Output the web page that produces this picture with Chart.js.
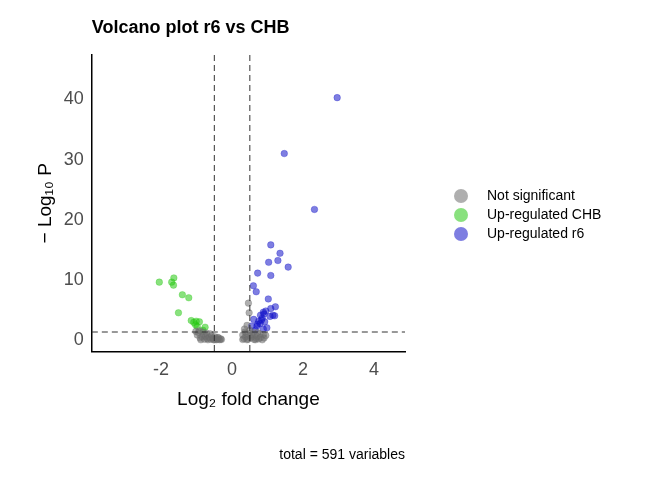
<!DOCTYPE html><html><head><meta charset="utf-8">
<script src="https://cdn.jsdelivr.net/npm/chart.js@4/dist/chart.umd.min.js"></script>
<style>html,body{margin:0;background:#fff}#w{width:672px;height:480px}</style></head><body><div id="w"><canvas id="c"></canvas></div>
<script>
const xTicks=[-2,0,2,4];
const yTicks=[0,10,20,30,40];
const greyPts=[[0.46,6.1],[0.48,4.5],[0.42,2.4],[0.35,1.8],[0.5,1.6],[0.6,1.2],[0.4,1.1],[0.3,0.8],[0.55,0.9],[0.7,0.6],[0.8,0.4],[0.9,0.3],[0.33,0.2],[0.45,0.1],[0.62,0.05],[0.75,0.15],[0.85,0.0],[0.38,0.5],[0.52,0.3],[0.68,0.25],[0.95,0.7],[0.78,1.0],[0.88,0.9],[0.3,0.05],[0.58,0.55],[0.66,0.0],[0.42,0.0],[0.72,1.2],[0.5,0.7],[0.36,1.3],
[-0.35,0.0],[-0.4,0.1],[-0.45,0.2],[-0.5,0.0],[-0.55,0.3],[-0.6,0.1],[-0.65,0.4],[-0.7,0.2],[-0.75,0.6],[-0.8,0.9],[-0.85,0.5],[-0.9,0.3],[-0.95,1.2],[-0.3,0.05],[-0.38,0.3],[-0.48,0.5],[-0.58,0.7],[-0.68,0.0],[-0.78,0.1],[-0.88,0.0],[-0.62,1.0],[-0.72,1.1],[-0.82,1.3],[-0.98,0.8],[-1.02,1.4],[-0.92,1.5],[-0.44,0.0],[-0.52,0.0],[-0.32,0.15],[-0.4,0.4]];
const chbPts=[[-2.05,9.6],[-1.64,10.3],[-1.70,9.6],[-1.65,9.1],[-1.40,7.5],[-1.22,7.0],[-1.51,4.5],[-1.15,3.2],[-1.01,3.1],[-0.92,3.0],[-1.03,2.5],[-0.76,2.1],[-1.08,2.9],[-0.98,2.2],[-0.82,1.6]];
const r6Pts=[[2.96,40.3],[1.47,31.0],[2.32,21.7],[1.09,15.8],[1.35,14.4],[1.03,12.9],[1.29,13.2],[1.58,12.1],[0.72,11.1],[1.09,10.7],[0.60,9.0],[0.68,8.0],[1.02,6.8],[1.22,5.5],[1.09,5.2],[0.88,4.6],[0.80,4.1],[1.20,4.0],[1.07,3.9],[0.61,3.4],[0.75,3.1],[0.85,3.6],[0.70,2.3],[0.98,2.0],[0.55,2.3],[0.79,2.7],[0.9,4.3],[0.95,4.8],[0.83,3.3],[0.72,2.6],[0.65,1.6],[0.88,1.8],[1.15,4.1],[0.92,3.0]];
const titleText='Volcano plot r6 vs CHB';
const footText='total = 591 variables';
const toXY=a=>a.map(p=>({x:p[0],y:p[1]}));
const deco={id:'deco',afterDatasetsDraw(ch){const {ctx,chartArea:a,scales:{x,y}}=ch;ctx.save();ctx.setLineDash([6,4]);ctx.strokeStyle='#333';ctx.lineWidth=1;
[-0.5,0.5].forEach(v=>{const px=x.getPixelForValue(v);ctx.beginPath();ctx.moveTo(px,a.top);ctx.lineTo(px,a.bottom);ctx.stroke();});
const py=y.getPixelForValue(1.3);ctx.beginPath();ctx.moveTo(a.left,py);ctx.lineTo(a.right,py);ctx.stroke();ctx.setLineDash([]);
ctx.fillStyle='#000';ctx.textBaseline='middle';ctx.font='bold 18px "Liberation Sans"';ctx.textAlign='left';ctx.fillText(titleText,a.left,28);
ctx.font='14px "Liberation Sans"';ctx.textAlign='right';ctx.fillText(footText,a.right,455);
ctx.textAlign='left';ch.data.datasets.forEach((d,i)=>{const cy=196+i*19;ctx.fillStyle=d.backgroundColor;ctx.beginPath();ctx.arc(461,cy,7,0,Math.PI*2);ctx.fill();ctx.fillStyle='#000';ctx.fillText(d.label,487,cy);});
ctx.restore();}};
const ds=(l,d,c)=>({label:l,data:toXY(d),backgroundColor:c,borderColor:c,pointRadius:3.3,pointBorderWidth:0.5,pointHoverRadius:3.3});
new Chart(document.getElementById('c'),{type:'scatter',plugins:[deco],
data:{datasets:[ds('Not significant',greyPts,'rgba(110,110,110,0.55)'),ds('Up-regulated CHB',chbPts,'rgba(40,200,20,0.55)'),ds('Up-regulated r6',r6Pts,'rgba(20,20,200,0.55)')]},
options:{animation:false,responsive:true,maintainAspectRatio:false,layout:{padding:{left:30,right:267,top:55,bottom:65}},
plugins:{tooltip:{enabled:false},legend:{display:false}},
scales:{x:{min:-3.95,max:4.87,afterBuildTicks(s){s.ticks=xTicks.map(v=>({value:v}));},grid:{display:false,drawTicks:true,tickLength:5,tickColor:'#000'},border:{color:'#000',width:1.5},
ticks:{color:'#4d4d4d',font:{family:'Liberation Sans',size:18}},title:{display:true,text:'Log₂ fold change',color:'#000',font:{family:'Liberation Sans',size:19}}},
y:{min:-1.96,max:47.4,afterBuildTicks(s){s.ticks=yTicks.map(v=>({value:v}));},grid:{display:false,tickLength:5,tickColor:'#000'},border:{color:'#000',width:1.5},
ticks:{color:'#4d4d4d',font:{family:'Liberation Sans',size:18}},title:{display:true,text:'− Log₁₀ P',color:'#000',font:{family:'Liberation Sans',size:19}}}}}});
</script></body></html>
